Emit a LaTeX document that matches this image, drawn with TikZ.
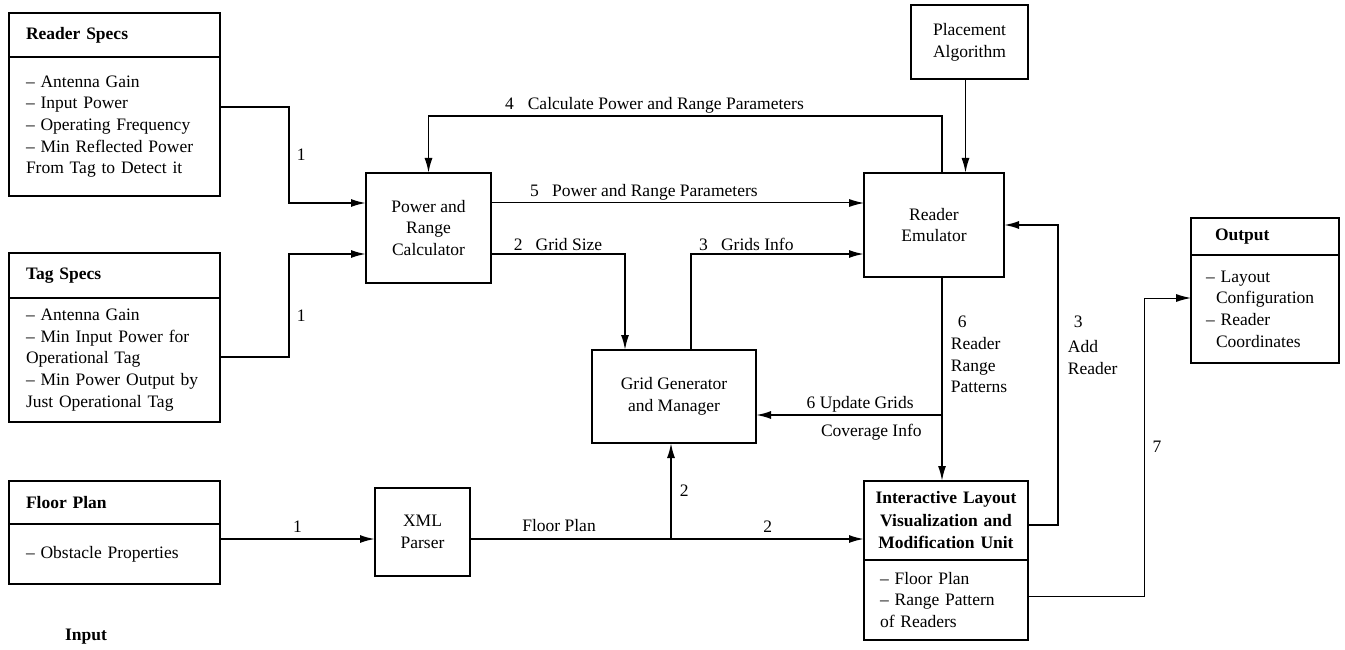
\documentclass[tikz,border=0pt]{standalone}
\usepackage{fontspec}
\setmainfont{Liberation Serif}
\usetikzlibrary{arrows.meta,positioning}

\begin{document}
\begin{tikzpicture}
[x=1pt,y=-1pt,
 font=\fontsize{17.5}{21.7}\selectfont,
 >={Latex[length=15pt,width=8pt]},
 block/.style={rectangle,draw=black,line width=1.8pt,align=center,outer sep=0pt,inner sep=0pt},
 spechead/.style={rectangle,draw=black,line width=1.8pt,font=\fontsize{17.5}{21.7}\selectfont\bfseries,align=left,outer sep=0pt,inner ysep=0pt},
 specbody/.style={rectangle,draw=black,line width=1.8pt,align=left,outer sep=0pt,inner ysep=0pt},
 flow/.style={->,line width=1.8pt},
 thinflow/.style={->,line width=1pt},
 lbl/.style={inner sep=2pt}]
\useasboundingbox (0,0) rectangle (1345,650);

% inputs
\node[spechead,text width=177pt,inner xsep=17pt,minimum height=44pt] (rshead) at (114.5,35) {Reader Specs};
\node[specbody,text width=177pt,inner xsep=17pt,minimum height=139pt] (rsbody) [below=0pt of rshead]
  {-- Antenna Gain\\-- Input Power\\-- Operating Frequency\\-- Min Reflected Power\\From Tag to Detect it};
\node[spechead,text width=177pt,inner xsep=17pt,minimum height=45pt] (tshead) at (114.5,275.5) {Tag Specs};
\node[specbody,text width=177pt,inner xsep=17pt,minimum height=124pt] (tsbody) [below=0pt of tshead]
  {-- Antenna Gain\\-- Min Input Power for\\Operational Tag\\-- Min Power Output by\\Just Operational Tag};
\node[spechead,text width=177pt,inner xsep=17pt,minimum height=43pt] (fphead) at (114.5,502.5) {Floor Plan};
\node[specbody,text width=177pt,inner xsep=17pt,minimum height=60pt] (fpbody) [below=0pt of fphead]
  {-- Obstacle Properties};
\node[font=\fontsize{17.5}{21.7}\selectfont\bfseries] (input) at (86,637) {Input};

% processing units
\node[block,minimum width=125pt,minimum height=110pt] (prc) at (428.5,228) {Power and\\Range\\Calculator};
\node[block,line width=1.3pt,minimum width=95pt,minimum height=88pt] (xml) at (422.5,532) {XML\\Parser};
\node[block,minimum width=164pt,minimum height=93pt] (ggm) at (674,396.5) {Grid Generator\\and Manager};
\node[block,minimum width=140pt,minimum height=104pt] (re) at (934,225) {Reader\\Emulator};
\node[block,minimum width=117pt,minimum height=74pt] (pa) at (969.5,42) {Placement\\Algorithm};
\node[spechead,align=center,font=\fontsize{17.5}{22.5}\selectfont\bfseries,text width=150pt,inner xsep=7pt,minimum height=79pt] (ilhead) at (946,520.5)
  {Interactive Layout\\Visualization and\\Modification Unit};
\node[specbody,text width=132pt,inner xsep=16pt,minimum height=80pt] (ilbody) [below=0pt of ilhead]
  {-- Floor Plan\\-- Range Pattern\\of Readers};

% output
\node[spechead,text width=100pt,inner xsep=24pt,minimum height=37pt] (ohead) at (1265,236.5) {Output};
\node[specbody,text width=118pt,inner xsep=15pt,minimum height=108pt] (obody) [below=0pt of ohead]
  {-- Layout\\\hspace*{10pt}Configuration\\-- Reader\\\hspace*{10pt}Coordinates};

\coordinate (upd) at (942,415);
\coordinate (fpj) at (671,539);

\draw[flow] ([yshift=19.5pt]rsbody.east) -- ++(69,0) |- node[lbl,pos=0.25,right=5pt]{1} ([yshift=25pt]prc.west);
\draw[flow] ([yshift=3pt]tsbody.east) -- ++(69,0) |- node[lbl,pos=0.2,right=5pt]{1} ([yshift=-26pt]prc.west);
\draw[flow] ([yshift=15pt]fpbody.east) -- node[lbl,above=4pt]{1} ([yshift=-7pt]xml.west);
\draw[flow] ([xshift=8pt]re.north) -- ++(0,-57) -| node[lbl,pos=0.28,above]{4\hspace{0.8em}Calculate Power and Range Parameters} (prc.north);
\draw[flow] ([xshift=-4pt]pa.south) -- ([xshift=-4pt]pa.south |- re.north);
\draw[thinflow] ([yshift=25pt]prc.east) -- node[lbl,pos=0.41,above]{5\hspace{0.75em}Power and Range Parameters} ([yshift=22pt]re.west);
\draw[flow] ([yshift=-26pt]prc.east) -| node[lbl,pos=0.25,above]{2\hspace{0.75em}Grid Size} ([xshift=-49pt]ggm.north);
\draw[flow] ([xshift=17pt]ggm.north) |- node[lbl,pos=0.66,above]{3\hspace{0.75em}Grids Info} ([yshift=-29pt]re.west);
\draw[flow] ([xshift=8pt]re.south) -- node[lbl,pos=0.38,right=6pt,align=left]{\hspace*{7pt}6\\Reader\\Range\\Patterns} ([xshift=-4pt]ilhead.north);
\draw[flow] (upd) -- node[lbl,pos=0.44,above]{6 Update Grids} node[lbl,pos=0.38,below=6pt]{Coverage Info} (upd -| ggm.east);
\draw[flow] ([yshift=-7pt]xml.east) -- node[lbl,pos=0.226,above=4pt]{Floor Plan} node[lbl,pos=0.756,above=4pt]{2} ([yshift=-18.5pt]ilhead.west);
\draw[flow] (fpj) -- node[lbl,right=6pt]{2} (fpj |- ggm.south);
\draw[flow] ([yshift=-4.5pt]ilhead.east) -- ++(30,0) |- node[lbl,pos=0.3,right=7pt,align=left]{\hspace*{6pt}3\\[4pt]Add\\Reader} (re.east);
\draw[thinflow] ([yshift=4pt]ilbody.east) -- ++(116,0) |- node[lbl,pos=0.25,right=6pt]{7} ([yshift=11pt]obody.west);
\end{tikzpicture}
\end{document}
